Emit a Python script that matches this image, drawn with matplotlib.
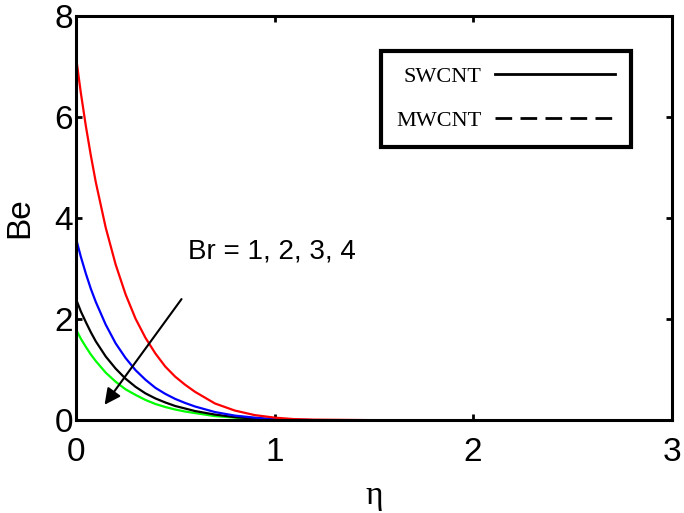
import matplotlib
matplotlib.use("Agg")
import matplotlib.pyplot as plt
from matplotlib.lines import Line2D

# eta grid and Be profiles (Br = 4, 3, 2, 1 from top)
eta = [0.0, 0.025, 0.05, 0.075, 0.1, 0.15, 0.2, 0.25, 0.3, 0.35, 0.4, 0.45,
       0.5, 0.55, 0.6, 0.7, 0.8, 0.9, 1.0, 1.1, 1.2, 1.5, 3.0]
be_red = [7.20, 6.47, 5.82, 5.24, 4.71, 3.81, 3.08, 2.49, 2.01, 1.63, 1.32,
          1.06, 0.86, 0.70, 0.56, 0.33, 0.19, 0.10, 0.05, 0.02, 0.01, 0.0, 0.0]
be_blue = [3.60, 3.23, 2.90, 2.60, 2.34, 1.89, 1.52, 1.23, 0.99, 0.80, 0.64,
           0.52, 0.42, 0.34, 0.27, 0.16, 0.09, 0.05, 0.02, 0.01, 0.0, 0.0, 0.0]
be_black = [2.40, 2.15, 1.94, 1.74, 1.56, 1.26, 1.02, 0.82, 0.66, 0.53, 0.43,
            0.35, 0.28, 0.23, 0.18, 0.11, 0.06, 0.03, 0.01, 0.0, 0.0, 0.0, 0.0]
be_green = [1.80, 1.61, 1.45, 1.30, 1.17, 0.94, 0.76, 0.61, 0.50, 0.40, 0.32,
            0.26, 0.21, 0.17, 0.14, 0.08, 0.05, 0.02, 0.01, 0.0, 0.0, 0.0, 0.0]

xticks = [0, 1, 2, 3]
yticks = [0, 2, 4, 6, 8]

sans = "Liberation Sans"
serif = "Liberation Serif"

fig = plt.figure(figsize=(6.84, 5.13), dpi=100)
ax = fig.add_axes([0.111, 0.181, 0.871, 0.788])

ax.plot(eta, be_green, color="#00ff00", lw=1.6)
ax.plot(eta, be_black, color="black", lw=1.6)
ax.plot(eta, be_blue, color="#0000ff", lw=1.6)
ax.plot(eta, be_red, color="#ff0000", lw=1.6)

ax.set_xlim(0, 3)
ax.set_ylim(0, 8)
ax.set_xticks(xticks)
ax.set_yticks(yticks)
ax.tick_params(direction="in", length=4, width=2, top=True, right=True,
               labelsize=24)
ax.tick_params(axis="x", pad=12)
ax.tick_params(axis="y", pad=2)
for lab in ax.get_xticklabels() + ax.get_yticklabels():
    lab.set_family(sans)
for sp in ax.spines.values():
    sp.set_linewidth(2.2)

ax.set_xlabel("η", fontsize=24, family=serif, labelpad=9)
ax.set_ylabel("Be", fontsize=24, family=sans, labelpad=14)

# arrow and annotation
ax.annotate("", xy=(0.136, 0.26), xytext=(0.54, 2.44),
            arrowprops=dict(arrowstyle="-|>", color="black", lw=1.5,
                            mutation_scale=24))
ax.text(0.564, 3.33, "Br = 1, 2, 3, 4", fontsize=20, family=sans,
        ha="left", va="center")

# legend
handles = [Line2D([], [], color="black", lw=2, ls="-"),
           Line2D([], [], color="black", lw=2, ls=(0, (6, 3)))]
leg = fig.legend(handles, ["SWCNT", "MWCNT"], loc="upper left",
                 bbox_to_anchor=(381 / 684, 1 - 51 / 513),
                 prop={"family": serif, "size": 16}, markerfirst=False,
                 handlelength=5.4, handletextpad=0.6, labelspacing=1.05,
                 borderpad=0.7, borderaxespad=0, fancybox=False,
                 framealpha=1)
leg.get_frame().set_edgecolor("black")
leg.get_frame().set_linewidth(3)

fig.savefig("out.png", dpi=100)
